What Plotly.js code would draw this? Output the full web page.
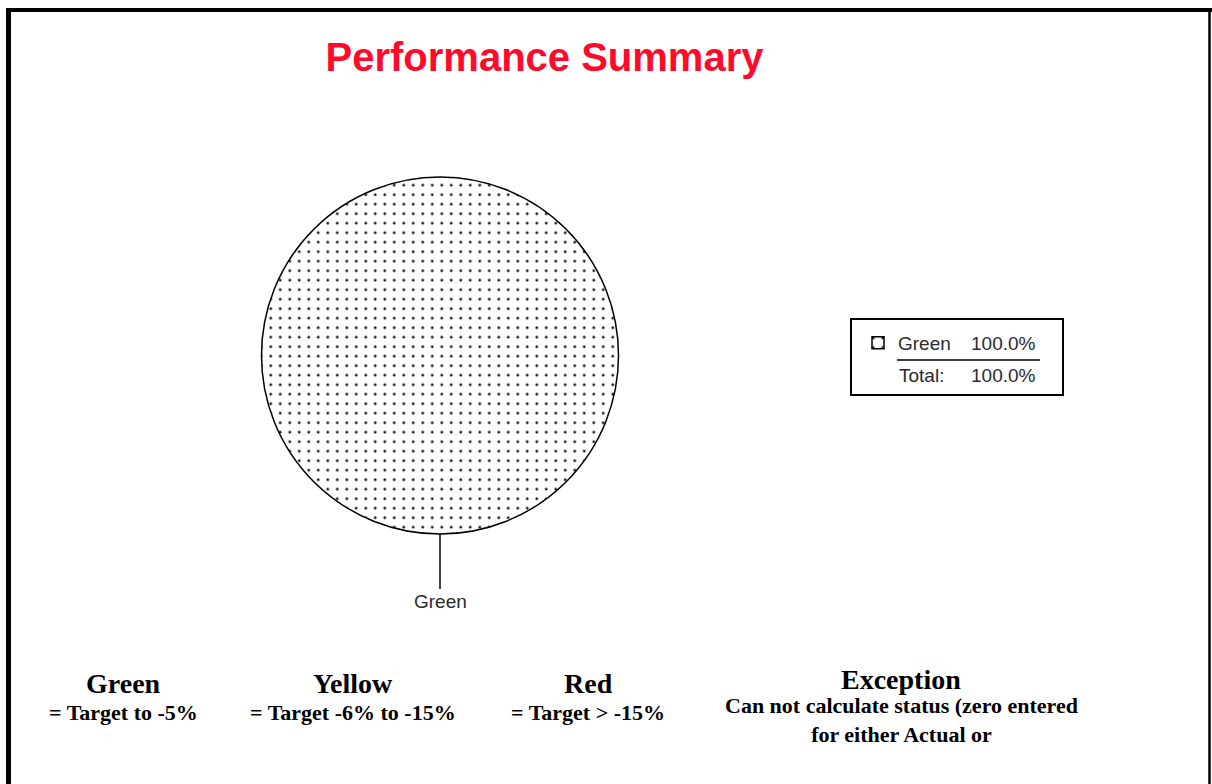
<!DOCTYPE html>
<html>
<head>
<meta charset="utf-8">
<script src="https://cdn.plot.ly/plotly-3.0.1.min.js"></script>
<style>
html,body{margin:0;padding:0;background:#fff;}
#chart{width:1212px;height:784px;}
</style>
</head>
<body>
<div id="chart"></div>
<script>
// ---- data ----
const sliceLabels = ['Green'];
const sliceValues = [100];
const totalLabel = 'Total:';
const chartTitle = 'Performance Summary';
const statusNames = ['Green', 'Yellow', 'Red', 'Exception'];
const statusRules = [
  '= Target to -5%',
  '= Target -6% to -15%',
  '= Target > -15%',
  'Can not calculate status (zero entered<br>for either Actual or'
];

// ---- layout helpers (pixel -> paper, margin 0) ----
const W = 1212, H = 784;
const px = x => x / W;
const py = y => 1 - y / H;

const total = sliceValues.reduce((a, b) => a + b, 0);
const pct = v => (v / total * 100).toFixed(1) + '%';

const pieDomX = [px(261), px(619)];
const pieDomY = [py(534), py(177)];

const data = [{
  type: 'pie',
  labels: sliceLabels,
  values: sliceValues,
  sort: false,
  direction: 'clockwise',
  rotation: 0,
  textinfo: 'none',
  hoverinfo: 'label+percent',
  domain: {x: pieDomX, y: pieDomY},
  marker: {
    colors: ['#ffffff'],
    line: {color: '#000000', width: 1.5},
    pattern: {shape: '.', size: 9.5, solidity: 0.07, fgcolor: '#1a1a1a', bgcolor: '#ffffff', fillmode: 'replace'}
  },
  showlegend: true
}];

const sans = 'Liberation Sans, Arial, sans-serif';
const serif = 'Liberation Serif, Times New Roman, serif';
const txtColor = '#2a2a2a';

const annotations = [];
// pie outside label with leader line
annotations.push({
  xref: 'paper', yref: 'paper',
  x: (pieDomX[0] + pieDomX[1]) / 2, y: pieDomY[0],
  text: sliceLabels[0], showarrow: true, arrowhead: 0, arrowwidth: 1.5, arrowcolor: '#000',
  ax: 0, ay: 67, standoff: 0,
  font: {family: sans, size: 19, color: txtColor}
});
// legend percentages
sliceValues.forEach((v, i) => {
  annotations.push({
    xref: 'paper', yref: 'paper', x: px(1038), y: py(344 + i * 24),
    xanchor: 'right', yanchor: 'middle', showarrow: false,
    text: pct(v), font: {family: sans, size: 19, color: txtColor}
  });
});
annotations.push({
  xref: 'paper', yref: 'paper', x: px(897), y: py(375),
  xanchor: 'left', yanchor: 'middle', showarrow: false,
  text: totalLabel, font: {family: sans, size: 19, color: txtColor}
});
annotations.push({
  xref: 'paper', yref: 'paper', x: px(1038), y: py(375),
  xanchor: 'right', yanchor: 'middle', showarrow: false,
  text: pct(total), font: {family: sans, size: 19, color: txtColor}
});
// bottom status key
const keyX = [123, 353, 588, 901];
const nameY = [683, 683, 683, 679];
const ruleY = [712, 712, 712, 720];
statusNames.forEach((n, i) => {
  annotations.push({
    xref: 'paper', yref: 'paper', x: px(keyX[i]), y: py(nameY[i]),
    xanchor: 'center', yanchor: 'middle', showarrow: false,
    text: '<b>' + n + '</b>', font: {family: serif, size: 28, color: '#000'}
  });
  annotations.push({
    xref: 'paper', yref: 'paper', x: px(keyX[i]), y: py(ruleY[i]),
    xanchor: 'center', yanchor: 'middle', showarrow: false,
    text: '<b>' + statusRules[i] + '</b>', font: {family: serif, size: 22, color: '#000'}
  });
});

const shapes = [
  // outer frame
  {type: 'line', xref: 'paper', yref: 'paper', x0: px(6), x1: px(1212), y0: py(10), y1: py(10), line: {color: '#000', width: 4}},
  {type: 'line', xref: 'paper', yref: 'paper', x0: px(8.5), x1: px(8.5), y0: py(8), y1: py(784), line: {color: '#000', width: 5}},
  {type: 'line', xref: 'paper', yref: 'paper', x0: px(1209.5), x1: px(1209.5), y0: py(8), y1: py(784), line: {color: '#000', width: 2.5}},
  // legend box
  {type: 'rect', xref: 'paper', yref: 'paper', x0: px(851), x1: px(1063), y0: py(319), y1: py(395), line: {color: '#000', width: 2}, fillcolor: 'rgba(0,0,0,0)'},
  // total separator
  {type: 'line', xref: 'paper', yref: 'paper', x0: px(897), x1: px(1040), y0: py(360), y1: py(360), line: {color: '#000', width: 1.5}}
];

const layout = {
  width: W, height: H,
  margin: {l: 0, r: 0, t: 0, b: 0},
  paper_bgcolor: '#ffffff',
  plot_bgcolor: '#ffffff',
  title: {
    text: chartTitle,
    x: px(544.5), xanchor: 'center', xref: 'paper',
    y: py(57), yanchor: 'middle', yref: 'paper',
    font: {family: sans, size: 40, color: '#ff0a2a', weight: 'bold'}
  },
  showlegend: true,
  legend: {
    x: px(858), xanchor: 'left',
    y: py(324), yanchor: 'top',
    bgcolor: 'rgba(0,0,0,0)', borderwidth: 0,
    font: {family: sans, size: 19, color: txtColor},
    itemclick: false, itemdoubleclick: false
  },
  annotations: annotations,
  shapes: shapes
};

Plotly.newPlot('chart', data, layout, {displayModeBar: false, staticPlot: true});
</script>
</body>
</html>
